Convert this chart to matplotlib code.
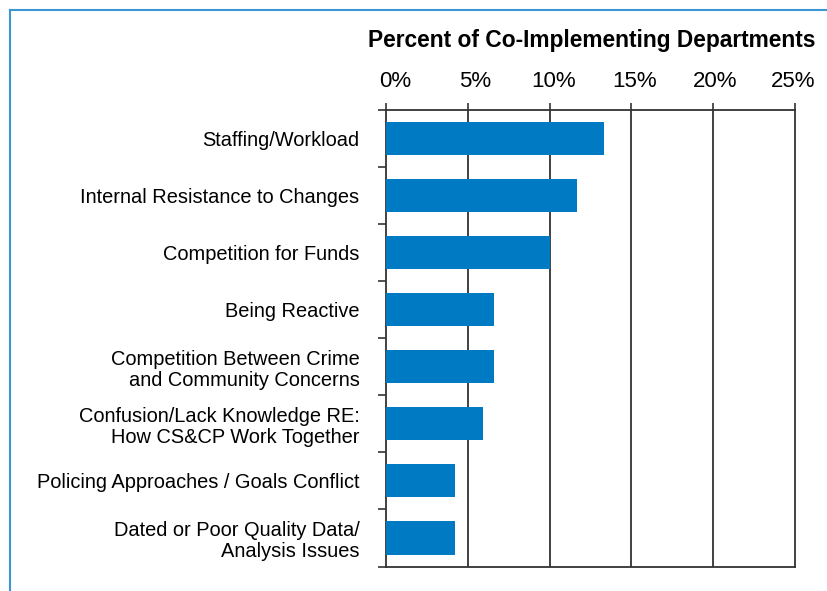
import numpy as np
import matplotlib.pyplot as plt
from matplotlib.lines import Line2D
from matplotlib.ticker import FixedLocator
from matplotlib.transforms import ScaledTranslation

plt.rcParams['font.family'] = ['Liberation Sans', 'DejaVu Sans']

# challenges, top to bottom
challenges = [
    "Staffing/Workload",
    "Internal Resistance to Changes",
    "Competition for Funds",
    "Being Reactive",
    "Competition Between Crime\nand Community Concerns",
    "Confusion/Lack Knowledge RE:\nHow CS&CP Work Together",
    "Policing Approaches / Goals Conflict",
    "Dated or Poor Quality Data/\nAnalysis Issues",
]
percent = [13.3, 11.7, 10.0, 6.6, 6.6, 5.9, 4.2, 4.2]
x_ticks = [0, 5, 10, 15, 20, 25]
x_labels = ["0%", "5%", "10%", "15%", "20%", "25%"]

bar_color = "#007ac2"
line_color = "#333333"

fig = plt.figure(figsize=(8.27, 5.91), dpi=100)
ax = fig.add_axes([386 / 827, 1 - 566.5 / 591, 409 / 827, 456.5 / 591])

y = np.arange(len(challenges))
ax.barh(y, percent, height=0.58, color=bar_color, zorder=3)

ax.set_xlim(0, 25)
ax.set_ylim(len(challenges) - 0.5, -0.5)

ax.xaxis.tick_top()
ax.set_xticks(x_ticks)
ax.set_xticklabels(x_labels, fontsize=16)
ax.tick_params(axis='x', length=5, width=1.2, color=line_color, pad=8)

# percent labels sit a little to the right of their gridlines
shifts = [9, 7, 4, 3, 2, -2]
for lab, dx in zip(ax.get_xticklabels(), shifts):
    lab.set_transform(lab.get_transform() + ScaledTranslation(dx / 100, 0, fig.dpi_scale_trans))

ax.set_yticks(y)
ax.set_yticklabels(challenges, fontsize=14.4, linespacing=1.12)
ax.tick_params(axis='y', which='major', length=0, pad=19)
ax.yaxis.set_minor_locator(FixedLocator(np.arange(len(challenges) + 1) - 0.5))
ax.tick_params(axis='y', which='minor', length=6, width=1.2, color=line_color)

for xv in x_ticks[1:-1]:
    ax.axvline(xv, color=line_color, lw=1.3, zorder=1)

for s in ax.spines.values():
    s.set_color(line_color)
    s.set_linewidth(1.3)

fig.text(815 / 827, 1 - 40 / 591, "Percent of Co-Implementing Departments",
         ha='right', va='center', fontsize=16.4, fontweight='bold')

# light blue frame along the top and left edges
frame = "#3b97d3"
fig.add_artist(Line2D([10 / 827, 1.0], [1 - 10 / 591, 1 - 10 / 591],
                      transform=fig.transFigure, color=frame, lw=1.5))
fig.add_artist(Line2D([10 / 827, 10 / 827], [0, 1 - 10 / 591],
                      transform=fig.transFigure, color=frame, lw=1.5))

fig.savefig("out.png", dpi=100)
